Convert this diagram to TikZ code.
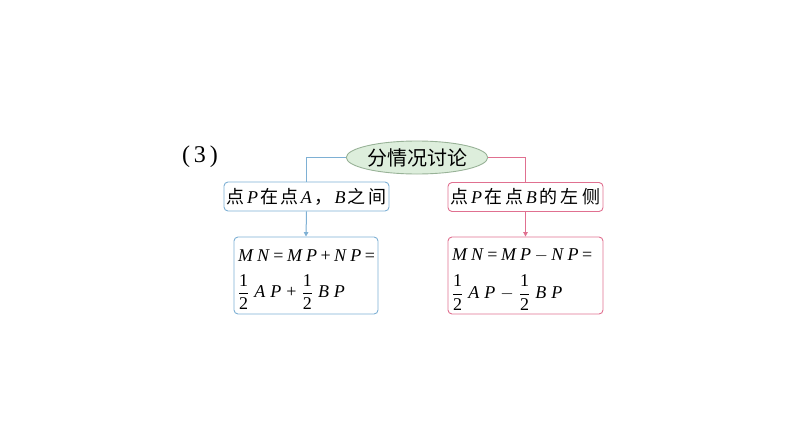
\documentclass[tikz,border=0pt]{standalone}
\usepackage{amsmath}
\usepackage{fontspec}
\setmainfont{Liberation Serif}
\newfontfamily\cjk{Noto Sans CJK SC}
\usetikzlibrary{shapes.geometric,arrows.meta}
\definecolor{bluec}{HTML}{7EB0D4}
\definecolor{pinkc}{HTML}{E07090}
\definecolor{greenf}{HTML}{DDEEDC}
\definecolor{greenb}{HTML}{98B297}
\newcommand\gk{\kern3.4pt}
\newcommand\gf{\kern5pt}
\newcommand\gc{\kern2.3pt}
\newcommand\half{$\dfrac{\textrm{1}}{\textrm{2}}$}
\tikzset{
  topbox/.style={ellipse, draw=greenb, fill=greenf, line width=0.9pt, minimum width=138pt, minimum height=33pt, inner sep=0pt, font=\fontsize{20}{22}\selectfont},
  casebox/.style={rounded corners=4pt, line width=0.9pt, minimum height=29pt, inner sep=0pt, font=\fontsize{18}{20}\selectfont},
  resbox/.style={rounded corners=4pt, line width=0.9pt, minimum height=77pt, inner xsep=4pt, inner ysep=0pt, align=left, font=\fontsize{18}{20}\selectfont},
  conn/.style={line width=1pt},
  arr/.style={line width=1pt, -{Triangle[width=4.5pt,length=4.5pt]}}
}
\begin{document}
\begin{tikzpicture}[x=1pt,y=-1pt]
\useasboundingbox (0,0) rectangle (794,447);
\node[font=\fontsize{24}{26}\selectfont] (num) at (200,157) {(\hspace{4pt}3\hspace{4pt})};
\node[topbox] (top) at (417,157.5) {\cjk 分情况讨论};
\node[casebox, draw=bluec, minimum width=165pt] (lb) at (306.5,196.5) {{\cjk 点}\gc\textit{P}\gc{\cjk 在}\gc{\cjk 点}\gc\textit{A}\gc{\cjk ，}\gc\textit{B}\gc{\cjk 之}\gc{\cjk 间}};
\node[casebox, draw=pinkc, minimum width=155pt] (rb) at (525.5,197) {{\cjk 点}\gc\textit{P}\gc{\cjk 在}\kern3pt{\cjk 点}\gc\textit{B}\gc{\cjk 的}\kern3.5pt{\cjk 左}\kern3.5pt{\cjk 侧}};
\node[resbox, draw=bluec, text width=136pt] (lr) at (306,275.5) {\rule{0pt}{20pt}\textit{M}\gk\textit{N}\gk=\gk\textit{M}\gk\textit{P}\gk+\gk\textit{N}\gk\textit{P}\gk=\\[12pt]\half\gf\textit{A}\gf\textit{P}\gf+\gf\half\gf\textit{B}\gf\textit{P}};
\node[resbox, draw=pinkc, text width=147pt] (rr) at (525.5,275.5) {\rule{0pt}{20pt}\textit{M}\gk\textit{N}\gk=\gk\textit{M}\gk\textit{P}\gk$-$\gk\textit{N}\gk\textit{P}\gk=\\[12pt]\half\gf\textit{A}\gf\textit{P}\gf$-$\gf\half\gf\textit{B}\gf\textit{P}};
\draw[conn, draw=bluec] (top.west) -| (lb.north);
\draw[conn, draw=pinkc] (top.east) -| (rb.north);
\draw[arr, draw=bluec, fill=bluec] (lb.south) -- (lr.north);
\draw[arr, draw=pinkc, fill=pinkc] (rb.south) -- (rr.north);
\end{tikzpicture}
\end{document}
